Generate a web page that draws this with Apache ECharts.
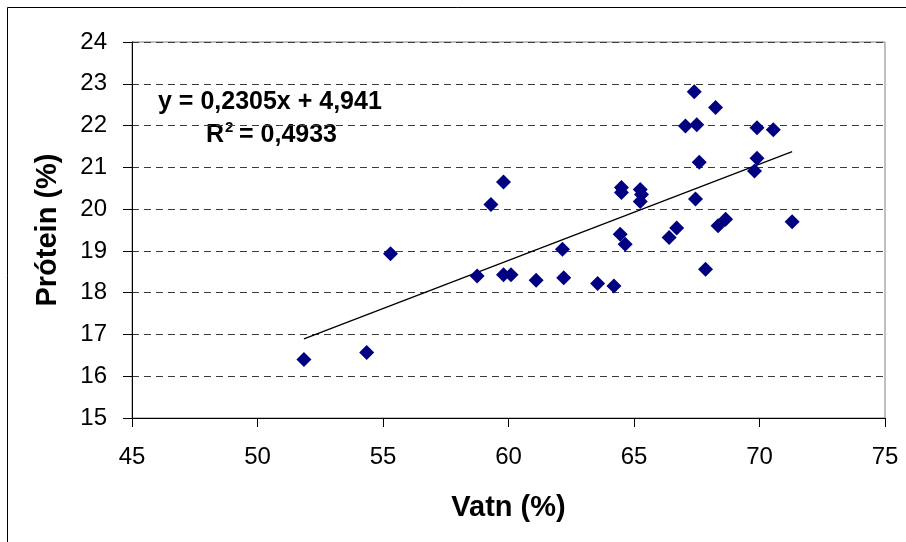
<!DOCTYPE html>
<html>
<head>
<meta charset="utf-8">
<script src="https://cdn.jsdelivr.net/npm/echarts@6/dist/echarts.min.js"></script>
<style>html,body{margin:0;padding:0;background:#fff}#c{width:906px;height:542px}</style>
</head>
<body>
<div id="c"></div>
<script>
// Data
const vatn = [51.85, 54.35, 55.3, 58.75, 59.3, 59.8, 59.8, 60.1, 61.1, 62.15, 62.2, 63.55, 64.2,
  64.5, 64.5, 64.45, 64.65, 65.25, 65.3, 65.25, 66.4, 66.7, 67.4, 67.05, 67.5, 68.25, 67.6,
  67.45, 67.85, 68.35, 68.65, 69.9, 70.55, 69.9, 69.8, 71.3];
const protein = [16.40, 16.57, 18.93, 18.40, 20.11, 20.65, 18.43, 18.43, 18.30, 19.04, 18.36, 18.22, 18.16,
  20.52, 20.40, 19.40, 19.16, 20.47, 20.35, 20.18, 19.32, 19.55, 22.81, 21.99, 22.02, 22.43, 21.12,
  20.24, 18.56, 19.60, 19.76, 21.95, 21.90, 21.22, 20.91, 19.70];
const trendSlope = 0.2305;
const trendIntercept = 4.941;
const equationText = 'y = 0,2305x + 4,941';
const rSquaredText = '= 0,4933';
const xTicks = [45, 50, 55, 60, 65, 70, 75];
const yTicks = [15, 16, 17, 18, 19, 20, 21, 22, 23, 24];

const points = vatn.map((v, i) => [v, protein[i]]);
const xMin = Math.min(...vatn), xMax = Math.max(...vatn);
const trend = [[xMin, trendSlope * xMin + trendIntercept], [xMax, trendSlope * xMax + trendIntercept]];

const chart = echarts.init(document.getElementById('c'), null, {renderer: 'canvas'});
const font = '"Liberation Sans", Arial, sans-serif';
chart.setOption({
  animation: false,
  backgroundColor: '#ffffff',
  grid: {left: 132, right: 21, top: 42, bottom: 124, show: true, borderColor: '#808080', borderWidth: 1},
  xAxis: {
    type: 'value', min: xTicks[0], max: xTicks[xTicks.length - 1], interval: 5,
    name: 'Vatn (%)', nameLocation: 'middle', nameGap: 75,
    nameTextStyle: {fontFamily: font, fontSize: 29, fontWeight: 'bold', color: '#000'},
    axisLine: {onZero: false, lineStyle: {color: '#000', width: 1}},
    axisTick: {show: true, inside: false, length: 9, lineStyle: {color: '#000'}},
    axisLabel: {fontFamily: font, fontSize: 24, color: '#000', margin: 27},
    splitLine: {show: false}
  },
  yAxis: {
    type: 'value', min: yTicks[0], max: yTicks[yTicks.length - 1], interval: 1,
    name: 'Prótein (%)', nameLocation: 'middle', nameGap: 70, nameRotate: 90,
    nameTextStyle: {fontFamily: font, fontSize: 29, fontWeight: 'bold', color: '#000'},
    axisLine: {show: true, onZero: false, lineStyle: {color: '#000', width: 1}},
    axisTick: {show: true, inside: false, length: 9, lineStyle: {color: '#000'}},
    axisLabel: {fontFamily: font, fontSize: 24, color: '#000', margin: 25},
    splitLine: {show: true, lineStyle: {color: '#3a3a3a', type: [7, 5], width: 1}}
  },
  series: [
    {
      type: 'line', data: trend, symbol: 'none', silent: true,
      lineStyle: {color: '#000', width: 1.3}, z: 2
    },
    {
      type: 'scatter', data: points, symbol: 'diamond', symbolSize: 15,
      itemStyle: {color: '#000080', opacity: 1}, z: 3
    }
  ],
  graphic: [
    {type: 'rect', shape: {x: 7.5, y: 7.5, width: 1000, height: 1000}, style: {fill: 'none', stroke: '#000', lineWidth: 1}, z: -10, silent: true},
    {type: 'text', x: 158, y: 102.5, style: {text: equationText, font: 'bold 25px ' + font, fill: '#000', verticalAlign: 'middle'}},
    {type: 'text', x: 206, y: 135.5, style: {text: 'R', font: 'bold 25px ' + font, fill: '#000', verticalAlign: 'middle'}},
    {type: 'text', x: 225, y: 120, style: {text: '2', font: 'bold 15px ' + font, fill: '#000', verticalAlign: 'top'}},
    {type: 'text', x: 239, y: 135.5, style: {text: rSquaredText, font: 'bold 25px ' + font, fill: '#000', verticalAlign: 'middle'}}
  ]
});
</script>
</body>
</html>
